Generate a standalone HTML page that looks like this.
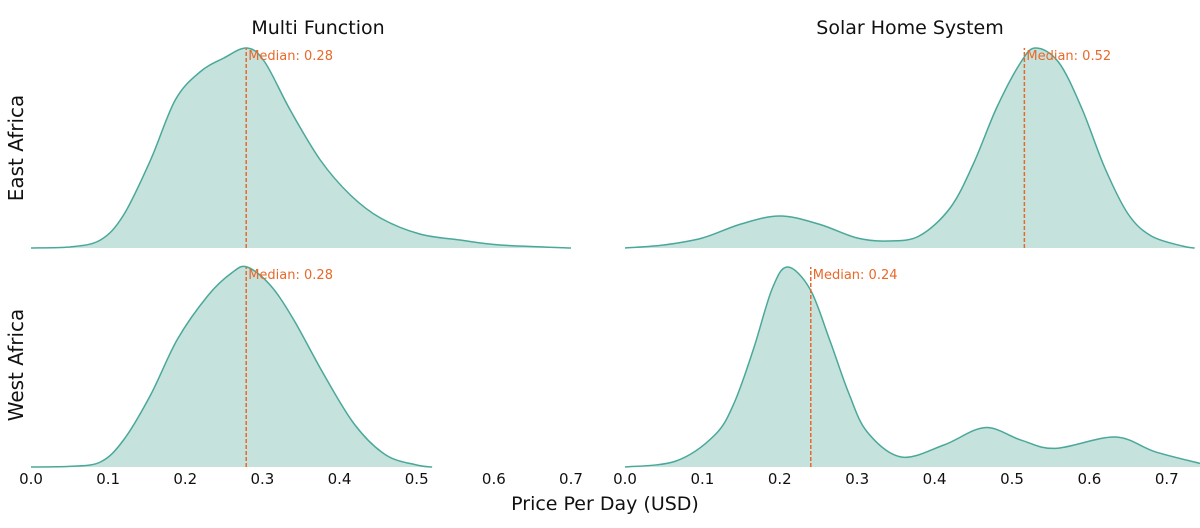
<!DOCTYPE html>
<html><head><meta charset="utf-8"><style>
html,body{margin:0;padding:0;background:#fff;}
svg{display:block;font-family:"DejaVu Sans","Liberation Sans",sans-serif;}
</style></head><body>
<svg id="chart" width="1200" height="528" viewBox="0 0 1200 528"></svg>
<script>
const xTicks = [0.0,0.1,0.2,0.3,0.4,0.5,0.6,0.7];
const colTitles = ["Multi Function","Solar Home System"];
const rowTitles = ["East Africa","West Africa"];
const eastMFx = [0,0.05,0.09,0.12,0.155,0.187,0.219,0.25,0.28,0.303,0.336,0.375,0.414,0.453,0.504,0.556,0.608,0.7];
const eastMFy = [0,0.005,0.04,0.165,0.44,0.74,0.88,0.95,1.0,0.93,0.69,0.44,0.265,0.15,0.07,0.04,0.015,0];
const westMFx = [0,0.05,0.09,0.12,0.155,0.19,0.23,0.26,0.28,0.31,0.34,0.38,0.42,0.46,0.5,0.52];
const westMFy = [0,0.003,0.025,0.135,0.36,0.64,0.86,0.97,1.0,0.91,0.74,0.46,0.21,0.06,0.01,0];
const eastSHSx = [0,0.05,0.1,0.15,0.2,0.25,0.3,0.34,0.38,0.42,0.45,0.48,0.51,0.53,0.56,0.59,0.62,0.65,0.68,0.72,0.736];
const eastSHSy = [0,0.015,0.05,0.12,0.16,0.12,0.05,0.035,0.06,0.2,0.42,0.7,0.92,1.0,0.93,0.7,0.4,0.17,0.06,0.01,0];
const westSHSx = [0,0.066,0.116,0.141,0.166,0.19,0.21,0.239,0.264,0.289,0.313,0.357,0.412,0.465,0.512,0.556,0.633,0.685,0.743];
const westSHSy = [0,0.03,0.16,0.32,0.59,0.89,1.0,0.89,0.64,0.37,0.175,0.05,0.11,0.197,0.134,0.093,0.15,0.076,0.018];
const medians = [0.279,0.516,0.279,0.24];

const svg = document.getElementById('chart');
const NS = 'http://www.w3.org/2000/svg';
function mk(tag, attrs, parent){const e=document.createElementNS(NS,tag);for(const k in attrs)e.setAttribute(k,attrs[k]);(parent||svg).appendChild(e);return e;}

const panels = [
  {xs:eastMFx, ys:eastMFy, x0:31, scale:771.4, base:248, med:medians[0], name:'east-multi-function'},
  {xs:eastSHSx, ys:eastSHSy, x0:625, scale:774, base:248, med:medians[1], name:'east-solar-home-system'},
  {xs:westMFx, ys:westMFy, x0:31, scale:771.4, base:467, med:medians[2], name:'west-multi-function'},
  {xs:westSHSx, ys:westSHSy, x0:625, scale:774, base:467, med:medians[3], name:'west-solar-home-system'}
];
const H = 200;
panels.forEach(p=>{
  const sx = v=>p.x0+v*p.scale, sy = v=>p.base-v*H;
  const pts = p.xs.map((x,i)=>[sx(x),sy(p.ys[i])]);
  let d = `M${pts[0][0]},${pts[0][1]}`;
  for(let i=0;i<pts.length-1;i++){
    const p0=pts[Math.max(0,i-1)],p1=pts[i],p2=pts[i+1],p3=pts[Math.min(pts.length-1,i+2)];
    const c1=[p1[0]+(p2[0]-p0[0])/6, p1[1]+(p2[1]-p0[1])/6];
    const c2=[p2[0]-(p3[0]-p1[0])/6, p2[1]-(p3[1]-p1[1])/6];
    d+=` C${c1[0]},${Math.min(c1[1],p.base)} ${c2[0]},${Math.min(c2[1],p.base)} ${p2[0]},${p2[1]}`;
  }
  const last = pts[pts.length-1];
  const area = mk('path',{d:d+` L${last[0]},${p.base} L${pts[0][0]},${p.base} Z`,fill:'#c5e2dd',stroke:'none'});
  
  
  const line = mk('path',{d:d,fill:'none',stroke:'#4aa89a','stroke-width':1.5});
  
  
  const mx = sx(p.med);
  const ml = mk('line',{x1:mx,x2:mx,y1:p.base,y2:p.base-H,stroke:'#e8692a','stroke-width':1.5,'stroke-dasharray':'4,2'});
  
  
  const mt = mk('text',{x:mx+2,y:p.base-H+12,fill:'#e8692a','font-size':13});
  mt.textContent = 'Median: '+p.med.toFixed(2);
  
  
  if(p.base===467){
    xTicks.forEach(t=>{
      const tx = mk('text',{x:sx(t),y:484,'text-anchor':'middle','font-size':15,fill:'#111'});
      tx.textContent = t.toFixed(1);
      
      
    });
  }
});
colTitles.forEach((t,i)=>{
  const e = mk('text',{x:i===0?318:910,y:34,'text-anchor':'middle','font-size':19,fill:'#111'});
  e.textContent=t;
  
  
});
rowTitles.forEach((t,i)=>{
  const cy = i===0?148:365;
  const e = mk('text',{x:0,y:0,transform:`translate(23,${cy}) rotate(-90)`,'text-anchor':'middle','font-size':20,fill:'#111'});
  e.textContent=t;
  
  
});
const xl = mk('text',{x:605,y:510,'text-anchor':'middle','font-size':19,fill:'#111'});
xl.textContent='Price Per Day (USD)';


</script>
</body></html>
